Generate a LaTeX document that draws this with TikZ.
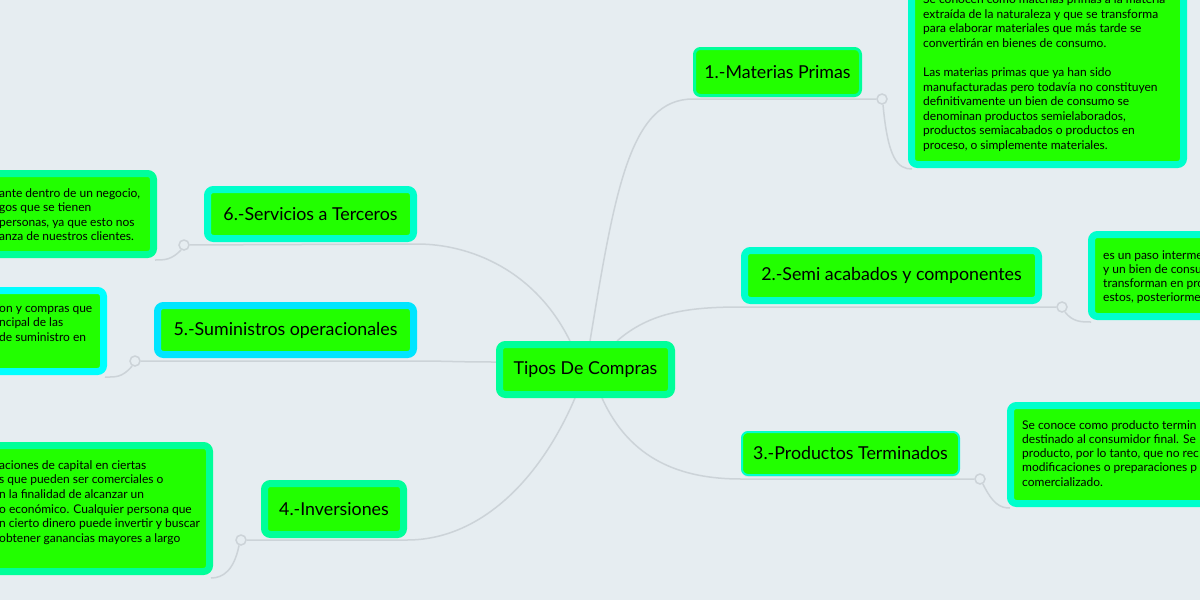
\documentclass[tikz,border=0pt]{standalone}
\usepackage{fontspec}
\setmainfont{Lato}
\usetikzlibrary{shadows}
\definecolor{bg}{HTML}{E6EDF1}
\definecolor{gfill}{HTML}{22FF00}
\definecolor{mint}{HTML}{00FF99}
\definecolor{aqua}{HTML}{00FFCC}
\definecolor{cyanb}{HTML}{00E5FF}
\definecolor{cyanc}{HTML}{00FFFF}
\definecolor{wire}{HTML}{CCD3D8}
\pgfdeclarelayer{back0}
\pgfdeclarelayer{background}
\pgfsetlayers{back0,background,main}
\begin{document}
\begin{tikzpicture}[x=1pt,y=-1pt,
  topic/.style={rounded corners=6pt, fill=gfill, inner sep=0pt, align=center,
    font=\fontsize{17.8}{20}\selectfont, text=black,
    drop shadow={opacity=0.10,shadow xshift=0pt,shadow yshift=-2pt}},
  notebox/.style={rounded corners=6pt, fill=gfill, line width=7pt, inner sep=0pt,
    drop shadow={opacity=0.10,shadow xshift=0pt,shadow yshift=-2pt}},
  notetext/.style={inner sep=0pt, anchor=base west, font=\fontsize{12}{14}\selectfont, text=black},
  wirel/.style={draw=wire, line width=1.5pt},
  knob/.style={circle, draw=wire, line width=1.5pt, fill=bg, minimum size=10pt, inner sep=0pt},
]
\clip (0,0) rectangle (1200,600);
\begin{pgfonlayer}{back0}
\fill[bg] (0,0) rectangle (1200,600);
\end{pgfonlayer}

% central topic
\node[topic, draw=mint, line width=7pt, minimum width=172pt, minimum height=50pt] (c) at (585.5,369.5) {Tipos De Compras};

% branch topics
\node[topic, draw=mint, line width=3pt, minimum width=166pt, minimum height=47pt] (n1) at (777.5,72) {1.-Materias Primas};
\node[topic, draw=aqua, line width=7pt, minimum width=294pt, minimum height=50pt] (n2) at (891.5,275.5) {2.-Semi acabados y componentes};
\node[topic, draw=aqua, line width=2pt, minimum width=217pt, minimum height=43pt] (n3) at (850.5,453.5) {3.-Productos Terminados};
\node[topic, draw=mint, line width=7pt, minimum width=139pt, minimum height=51pt] (n4) at (334,509) {4.-Inversiones};
\node[topic, draw=cyanb, line width=7pt, minimum width=256pt, minimum height=49pt] (n5) at (285.5,330) {5.-Suministros operacionales};
\node[topic, draw=aqua, line width=7pt, minimum width=206pt, minimum height=49pt] (n6) at (310.5,214) {6.-Servicios a Terceros};

% note boxes
\node[notebox, draw=aqua, minimum width=272pt, minimum height=201pt] (note1) at (1047.5,64) {};
\node[notebox, draw=aqua, minimum width=305pt, minimum height=82pt] (note2) at (1244,275.5) {};
\node[notebox, draw=aqua, minimum width=286pt, minimum height=98pt] (note3) at (1153.5,454.5) {};
\node[notebox, draw=mint, minimum width=306pt, minimum height=126pt] (note4) at (56.5,508.5) {};
\node[notebox, draw=cyanc, minimum width=200pt, minimum height=81pt] (note5) at (3.5,331) {};
\node[notebox, draw=mint, minimum width=250pt, minimum height=81pt] (note6) at (28.5,214) {};

% note texts
\foreach \t [count=\i from 0] in {{Se conocen como materias primas a la materia},
  {extraída de la naturaleza y que se transforma},
  {para elaborar materiales que más tarde se},
  {convertirán en bienes de consumo.},
  {},
  {Las materias primas que ya han sido},
  {manufacturadas pero todavía no constituyen},
  {definitivamente un bien de consumo se},
  {denominan productos semielaborados,},
  {productos semiacabados o productos en},
  {proceso, o simplemente materiales.}}
  \node[notetext] (ta\i) at (923,{3.4+14.6*\i}) {\t};

\foreach \t [count=\i from 0] in {{es un paso interme},{y un bien de consu},{transforman en pro},{estos, posteriorme}}
  \node[notetext] (tb\i) at (1103,{259+14*\i}) {\t};

\foreach \t [count=\i from 0] in {{Se conoce como producto termin},{destinado al consumidor final. Se},
  {producto, por lo tanto, que no rec},{modificaciones o preparaciones p},{comercializado.}}
  \node[notetext] (tc\i) at (1022,{429+14.3*\i}) {\t};

\foreach \t [count=\i from 0] in {{aciones de capital en ciertas},{s que pueden ser comerciales o},
  {n la finalidad de alcanzar un},{o económico. Cualquier persona que},
  {n cierto dinero puede invertir y buscar},{obtener ganancias mayores a largo}}
  \node[notetext] (td\i) at (-1,{469+14.7*\i}) {\t};

\foreach \t [count=\i from 0] in {{on y compras que},{ncipal de las},{de suministro en}}
  \node[notetext] (te\i) at (-1,{312+14.5*\i}) {\t};

\foreach \t [count=\i from 0] in {{ante dentro de un negocio,},{gos que se tienen},{personas, ya que esto nos},{anza de nuestros clientes.}}
  \node[notetext] (tf\i) at (-1,{197+14.6*\i}) {\t};

% knobs
\node[knob] (k1) at (882,99) {};
\node[knob] (k2) at (1062,307) {};
\node[knob] (k3) at (980,479) {};
\node[knob] (k4) at (241,540) {};
\node[knob] (k5) at (135,361) {};
\node[knob] (k6) at (184,245) {};

% connectors
\begin{pgfonlayer}{background}
\draw[wirel] ([xshift=4.5pt]c.north) .. controls +(25,-151) and +(-63,0) .. ([yshift=-2pt]n1.south west) -- (k1);
\draw[wirel] (k1.-80) .. controls +(5,55) and +(-14,0) .. ([xshift=4pt,yshift=-1pt]note1.south west);
\draw[wirel] ([xshift=31.5pt]c.north) .. controls +(33,-29) and +(-52,0) .. ([yshift=-3pt]n2.south west) -- (k2);
\draw[wirel] (k2.-60) .. controls +(8,10) and +(-10,0) .. ([xshift=3pt,yshift=-2pt]note2.south west);
\draw[wirel] ([xshift=16.5pt]c.south) .. controls +(28,62) and +(-60,0) .. ([yshift=-3pt]n3.south west) -- (k3);
\draw[wirel] (k3.-60) .. controls +(10,20) and +(-10,0) .. ([xshift=3pt,yshift=-1pt]note3.south west);
\draw[wirel] ([xshift=-10.5pt]c.south) .. controls +(-35,82) and +(73,0) .. ([yshift=-2pt]n4.south east) -- (k4);
\draw[wirel] (k4.-110) .. controls +(-5,25) and +(12,0) .. ([xshift=-2pt,yshift=-3pt]note4.south east);
\draw[wirel] ([yshift=7.5pt]c.west) .. controls +(-40,0) and +(30,0) .. ([yshift=-3pt]n5.south east) -- (k5);
\draw[wirel] (k5.-120) .. controls +(-10,12) and +(10,0) .. ([xshift=-2pt,yshift=-2pt]note5.south east);
\draw[wirel] ([xshift=-15.5pt]c.north) .. controls +(-35,-71) and +(53,0) .. ([yshift=-2pt]n6.south east) -- (k6);
\draw[wirel] (k6.-120) .. controls +(-10,10) and +(10,0) .. ([xshift=-2pt,yshift=-2pt]note6.south east);
\end{pgfonlayer}
\end{tikzpicture}
\end{document}
